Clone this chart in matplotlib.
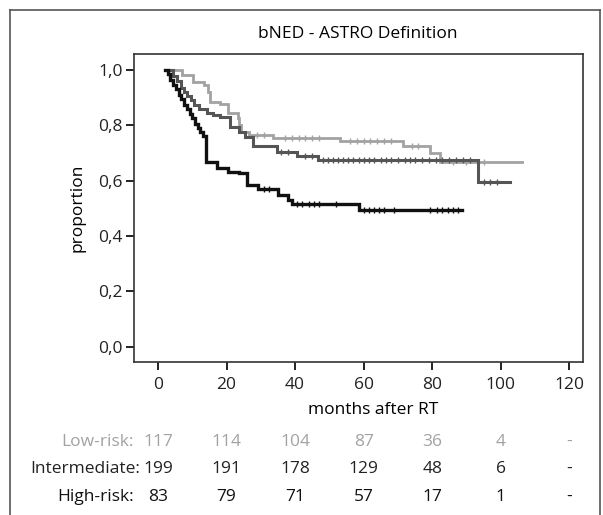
import numpy as np
import matplotlib
matplotlib.use('Agg')
import matplotlib.pyplot as plt
from matplotlib.lines import Line2D
from matplotlib.transforms import blended_transform_factory

plt.rcParams['font.family'] = ['Open Sans', 'DejaVu Sans']

# Kaplan-Meier step curves (months, proportion)
low_t = [4.2, 7.1, 10.1, 13.3, 14.7, 15.3, 18.0, 20.5, 23.2, 23.6, 24.2, 26.5, 33.7, 53.2, 71.6, 79.4, 82.4]
low_v = [1.0, 0.982, 0.957, 0.946, 0.92, 0.884, 0.876, 0.845, 0.827, 0.80, 0.776, 0.765, 0.755, 0.742, 0.725, 0.70, 0.668]
low_end = 106.3
low_cens = [29, 31, 37, 39, 41, 43, 45, 47, 56, 58, 60, 62, 64, 66, 68, 74, 76, 86, 90, 95]

int_t = [3.0, 4.5, 5.5, 6.6, 7.5, 8.5, 9.5, 10.5, 12.0, 14.4, 16.0, 18.2, 21.1, 23.5, 25.5, 27.6, 34.8, 40.5, 46.8, 93.4]
int_v = [1.0, 0.98, 0.96, 0.935, 0.92, 0.905, 0.89, 0.875, 0.86, 0.845, 0.838, 0.83, 0.794, 0.776, 0.758, 0.725, 0.705, 0.69, 0.675, 0.596]
int_end = 102.8
int_cens = [36, 38, 43, 45, 48, 49.5, 51, 52.5, 54, 55.5, 57, 58.5, 60, 61.5, 63, 65, 66.5, 68, 70, 72,
            73.5, 75, 77, 79, 81, 83, 85, 87, 89, 91, 95, 97, 99]

high_t = [2.0, 2.8, 3.6, 4.4, 5.2, 6.0, 6.8, 7.6, 8.4, 9.2, 10.0, 10.8, 11.6, 12.4, 13.2, 14.1,
          17.3, 20.3, 23.5, 26.1, 29.3, 35.1, 37.8, 39.2, 58.7]
high_v = [1.0, 0.985, 0.965, 0.945, 0.93, 0.91, 0.895, 0.875, 0.86, 0.84, 0.825, 0.805, 0.79, 0.775, 0.762, 0.668,
          0.646, 0.632, 0.628, 0.585, 0.570, 0.549, 0.531, 0.516, 0.495]
high_end = 88.8
high_cens = [31, 32.5, 40.5, 42, 44, 45.5, 47, 52, 60, 61.5, 63, 64.5, 66, 69, 79.5, 81.5, 83, 84.5, 86, 87.5]

# numbers at risk
risk_months = [0, 20, 40, 60, 80, 100, 120]
low_risk = ['117', '114', '104', '87', '36', '4', '-']
int_risk = ['199', '191', '178', '129', '48', '6', '-']
high_risk = ['83', '79', '71', '57', '17', '1', '-']

xticks = [0, 20, 40, 60, 80, 100, 120]
yticks = [0.0, 0.2, 0.4, 0.6, 0.8, 1.0]

c_low = '#a2a2a2'
c_int = '#555555'
c_high = '#111111'
fs = 12.5

W, H = 603, 515
fig = plt.figure(figsize=(W / 100, H / 100), dpi=100)
ax = fig.add_axes([134 / W, 1 - 362 / H, (583 - 134) / W, (362 - 54) / H])

def draw_km(t, v, end, cens, color, lw):
    tt = np.array(t + [end])
    vv = np.array(v + [v[-1]])
    ax.step(tt, vv, where='post', color=color, lw=lw, solid_joinstyle='miter')
    c = np.array(cens)
    idx = np.searchsorted(np.array(t), c, side='right') - 1
    ax.plot(c, np.array(v)[idx], ls='none', marker='|', ms=4.5, mew=1.0, color=color)

draw_km(low_t, low_v, low_end, low_cens, c_low, 2.0)
draw_km(int_t, int_v, int_end, int_cens, c_int, 2.2)
draw_km(high_t, high_v, high_end, high_cens, c_high, 2.4)

ax.set_xlim(-7, 124)
ax.set_ylim(-0.055, 1.058)
ax.set_xticks(xticks)
ax.set_yticks(yticks)
ax.set_yticklabels([('%.1f' % y).replace('.', ',') for y in yticks])
ax.tick_params(direction='out', length=6, width=1.4, colors='#222222', labelsize=fs)
ax.tick_params(axis='x', pad=5)
ax.tick_params(axis='y', pad=2)
for s in ax.spines.values():
    s.set_color('#333333')
    s.set_linewidth(1.2)

ax.set_ylabel('proportion', fontsize=fs, labelpad=9)
fig.text(373 / W, 1 - 410 / H, 'months after RT', fontsize=fs, ha='center', va='center')
fig.text(358 / W, 1 - 34 / H, 'bNED - ASTRO Definition', fontsize=fs, ha='center', va='center')

# risk table
tr = blended_transform_factory(ax.transData, fig.transFigure)
rows = [('Low-risk:', low_risk, c_low, 442, 134), ('Intermediate:', int_risk, '#222222', 469, 140),
        ('High-risk:', high_risk, '#111111', 497, 134)]
for label, vals, col, py, px in rows:
    fig.text(px / W, 1 - py / H, label, fontsize=fs, ha='right', va='center', color=col)
    for m, s in zip(risk_months, vals):
        ax.text(m, 1 - py / H, s, transform=tr, fontsize=fs, ha='center', va='center', color=col)

# outer frame
for xs, ys in [([10, 10], [515, 10]), ([10, 600], [10, 10]), ([600, 600], [10, 515])]:
    fig.add_artist(Line2D([x / W for x in xs], [1 - y / H for y in ys], color='#555555', lw=1.2))

fig.savefig('out.png', dpi=100)
